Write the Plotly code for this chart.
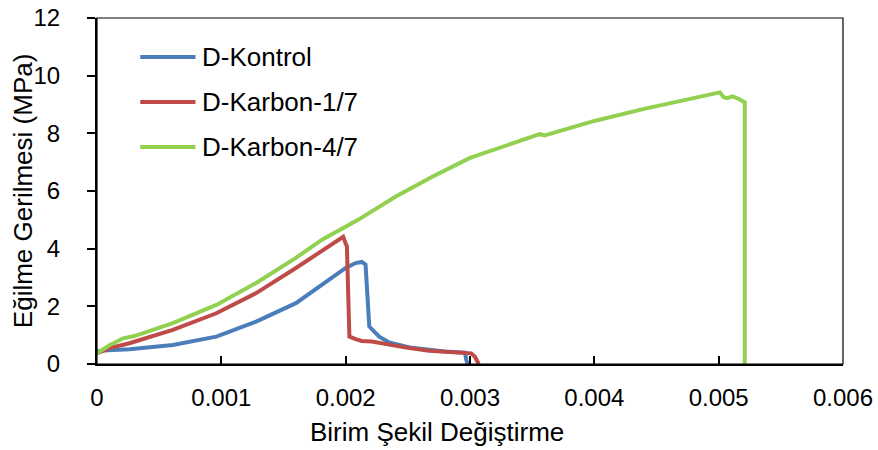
import plotly.graph_objects as go

# ---- data ----
kontrol_x = [0, 0.00005, 0.00026, 0.00061, 0.00096, 0.00128, 0.0016, 0.00181, 0.002, 0.00208,
             0.00213, 0.00216, 0.00218, 0.00219, 0.00223, 0.00227, 0.00235, 0.00253, 0.0028,
             0.00296, 0.00297, 0.00298]
kontrol_y = [0.43, 0.47, 0.51, 0.66, 0.95, 1.47, 2.11, 2.75, 3.33, 3.5,
             3.54, 3.45, 2.0, 1.3, 1.12, 0.95, 0.75, 0.56, 0.43,
             0.39, 0.15, 0]

karbon17_x = [0, 0.0001, 0.00026, 0.00061, 0.00096, 0.00128, 0.0016, 0.00181, 0.00198, 0.002,
              0.00201, 0.00202, 0.00203, 0.00208, 0.00213, 0.00221, 0.00227, 0.00235, 0.0025,
              0.00267, 0.0029, 0.00301, 0.00304, 0.00307]
karbon17_y = [0.37, 0.55, 0.72, 1.18, 1.76, 2.46, 3.33, 3.91, 4.41, 4.18,
              4.08, 2.5, 0.95, 0.86, 0.8, 0.78, 0.73, 0.66, 0.56,
              0.46, 0.39, 0.37, 0.25, 0]

karbon47_x = [0, 0.0001, 0.00021, 0.0003, 0.00061, 0.00096, 0.00128, 0.0016, 0.00181, 0.0021,
              0.0024, 0.0027, 0.003, 0.0033, 0.00356, 0.0036, 0.0040, 0.0044, 0.0047, 0.0049,
              0.00501, 0.00504, 0.00507, 0.00511, 0.00516, 0.00521, 0.00521]
karbon47_y = [0.37, 0.65, 0.89, 0.97, 1.42, 2.05, 2.81, 3.68, 4.31, 5.0,
              5.8, 6.5, 7.15, 7.6, 7.97, 7.93, 8.43, 8.85, 9.12, 9.3,
              9.42, 9.25, 9.22, 9.28, 9.2, 9.07, 0]

series_names = ["D-Kontrol", "D-Karbon-1/7", "D-Karbon-4/7"]
series_colors = ["#4A7EBB", "#BE4B48", "#92D050"]

x_ticks = [0, 0.001, 0.002, 0.003, 0.004, 0.005, 0.006]
x_tick_labels = ["0", "0.001", "0.002", "0.003", "0.004", "0.005", "0.006"]
y_ticks = [0, 2, 4, 6, 8, 10, 12]

x_title = "Birim Şekil Değiştirme"
y_title = "Eğilme Gerilmesi (MPa)"

FONT = "Liberation Sans, Arial, sans-serif"

fig = go.Figure()
for xs, ys, name, col in zip([kontrol_x, karbon17_x, karbon47_x],
                             [kontrol_y, karbon17_y, karbon47_y],
                             series_names, series_colors):
    fig.add_trace(go.Scatter(x=xs, y=ys, mode="lines", name=name,
                             line=dict(color=col, width=4), showlegend=False))

# custom legend (line samples + text)
leg_y = [0.887, 0.757, 0.627]
for name, col, yy in zip(series_names, series_colors, leg_y):
    fig.add_shape(type="line", xref="paper", yref="paper", x0=0.058, x1=0.132, y0=yy, y1=yy,
                  line=dict(color=col, width=4))
    fig.add_annotation(xref="paper", yref="paper", x=0.138, y=yy, text=name, showarrow=False,
                       xanchor="left", yanchor="middle", font=dict(family=FONT, size=26, color="black"))

# axis titles
fig.add_annotation(xref="paper", yref="paper", x=0.456, y=-0.197, text=x_title, showarrow=False,
                   xanchor="center", yanchor="middle", font=dict(family=FONT, size=26, color="black"))
fig.add_annotation(xref="paper", yref="paper", x=-0.099, y=0.5, text=y_title, showarrow=False,
                   textangle=-90, xanchor="center", yanchor="middle",
                   font=dict(family=FONT, size=26, color="black"))

# thin frame
fig.add_shape(type="rect", xref="paper", yref="paper", x0=0, x1=1, y0=0, y1=1,
              line=dict(color="black", width=1.2), layer="above")

fig.update_layout(
    width=878, height=450,
    margin=dict(l=97, r=35, t=18, b=86, autoexpand=False),
    paper_bgcolor="white", plot_bgcolor="white",
    font=dict(family=FONT, color="black"),
    xaxis=dict(range=[0, 0.006], tickvals=x_ticks, ticktext=x_tick_labels, automargin=False,
               showgrid=False, zeroline=False, showline=True, linecolor="black", linewidth=2,
               ticks="inside", ticklen=8, tickcolor="black", tickwidth=1.5,
               ticklabelstandoff=11,
               tickfont=dict(family=FONT, size=24, color="black")),
    yaxis=dict(range=[0, 12], tickvals=y_ticks, automargin=False,
               showgrid=False, zeroline=False, showline=True, linecolor="black", linewidth=2,
               ticks="outside", ticklen=8, tickcolor="black", tickwidth=1.5,
               ticklabelstandoff=22,
               tickfont=dict(family=FONT, size=24, color="black")),
)

fig.write_html("out.html")
